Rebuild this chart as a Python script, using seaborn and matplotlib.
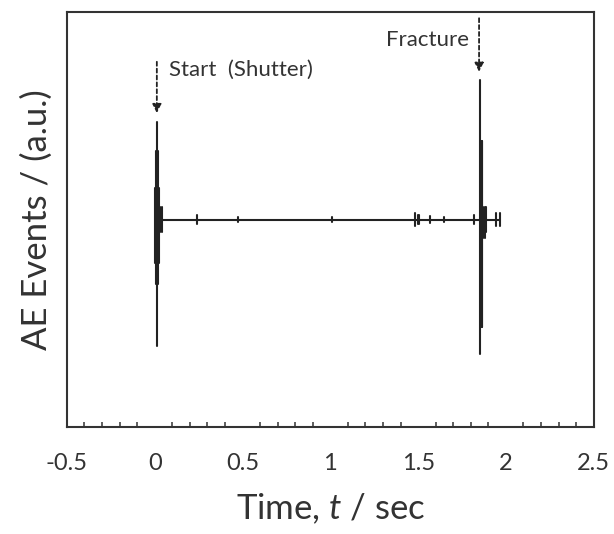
import numpy as np
import pandas as pd
import seaborn as sns
import matplotlib
matplotlib.use("Agg")
import matplotlib.pyplot as plt
from matplotlib.ticker import MultipleLocator

# Acoustic-emission events: time (s), upward and downward amplitude (a.u.)
event_time = [0.003, 0.009, 0.014, 0.019, 0.025, 0.032, 0.040,
              0.238, 0.472, 1.010, 1.480, 1.497, 1.507, 1.570, 1.646, 1.816,
              1.851, 1.856, 1.861, 1.866, 1.872, 1.878, 1.884, 1.946, 1.965]
event_up = [0.15, 0.33, 0.47, 0.33, 0.15, 0.06, 0.06,
            0.022, 0.010, 0.010, 0.030, 0.020, 0.020, 0.015, 0.012, 0.020,
            0.67, 0.38, 0.38, 0.38, 0.06, 0.06, 0.06, 0.030, 0.030]
event_down = [0.21, 0.31, 0.61, 0.31, 0.21, 0.06, 0.06,
              0.022, 0.010, 0.010, 0.030, 0.020, 0.020, 0.015, 0.012, 0.020,
              0.65, 0.52, 0.52, 0.52, 0.09, 0.09, 0.06, 0.030, 0.030]

# Quiet baseline between the shutter opening and the end of recording
baseline_time = [0.014, 1.965]
baseline_level = [0.0, 0.0]

xtick_values = [-0.5, 0, 0.5, 1, 1.5, 2, 2.5]
xtick_labels = ["-0.5", "0", "0.5", "1", "1.5", "2", "2.5"]

start_time, fracture_time = 0.012, 1.847

sns.set_style("white")
plt.rcParams["font.family"] = ["Lato", "DejaVu Sans"]
plt.rcParams["mathtext.fontset"] = "custom"
plt.rcParams["mathtext.it"] = "Lato:italic"
plt.rcParams["mathtext.rm"] = "Lato"

fig = plt.figure(figsize=(6.14, 5.34), dpi=100)
ax = fig.add_axes([0.109, 0.2004, 0.858, 0.7771])

ink = "#222222"
grey = "#333333"

# long-form table: each event is a vertical segment, the baseline one horizontal segment
rows = []
for i, (t, u, d) in enumerate(zip(event_time, event_up, event_down)):
    rows.append({"seg": i, "t": t, "amp": -d})
    rows.append({"seg": i, "t": t, "amp": u})
for t, a in zip(baseline_time, baseline_level):
    rows.append({"seg": -1, "t": t, "amp": a})
segments = pd.DataFrame(rows)

sns.lineplot(data=segments, x="t", y="amp", units="seg", estimator=None,
             sort=False, color=ink, linewidth=1.5, ax=ax, legend=False)

ax.set_xlim(-0.5, 2.5)
ax.set_ylim(-1, 1)

# event markers
arrow_style = dict(arrowstyle="-|>", linestyle=(0, (2.2, 1.6)), color=ink,
                   lw=1.3, mutation_scale=13, shrinkA=0, shrinkB=0)
ax.annotate("", xy=(start_time, 0.513), xytext=(start_time, 0.76),
            arrowprops=arrow_style)
ax.text(0.083, 0.72, "Start  (Shutter)", fontsize=16, color=grey,
        ha="left", va="center")

ax.annotate("", xy=(fracture_time, 0.712), xytext=(fracture_time, 0.97),
            arrowprops=arrow_style)
ax.text(1.79, 0.865, "Fracture", fontsize=16, color=grey,
        ha="right", va="center")

# axes styling
for side in ["left", "right", "top", "bottom"]:
    ax.spines[side].set_color(grey)
    ax.spines[side].set_linewidth(1.5)

ax.set_xticks(xtick_values)
ax.set_xticklabels(xtick_labels)
ax.xaxis.set_minor_locator(MultipleLocator(0.1))
ax.tick_params(axis="x", which="major", direction="in", length=6, width=1.1,
               color=grey, labelsize=17, labelcolor=grey, pad=19)
ax.tick_params(axis="x", which="minor", direction="in", length=3.5, width=1.1,
               color=grey, bottom=True)
ax.tick_params(axis="y", left=False, labelleft=False)
ax.set_yticks([])

ax.set_xlabel("Time, $t$ / sec", fontsize=25, color=grey, labelpad=12)
ax.set_ylabel("AE Events / (a.u.)", fontsize=25, color=grey, labelpad=10)

fig.savefig("out.png", dpi=100)
